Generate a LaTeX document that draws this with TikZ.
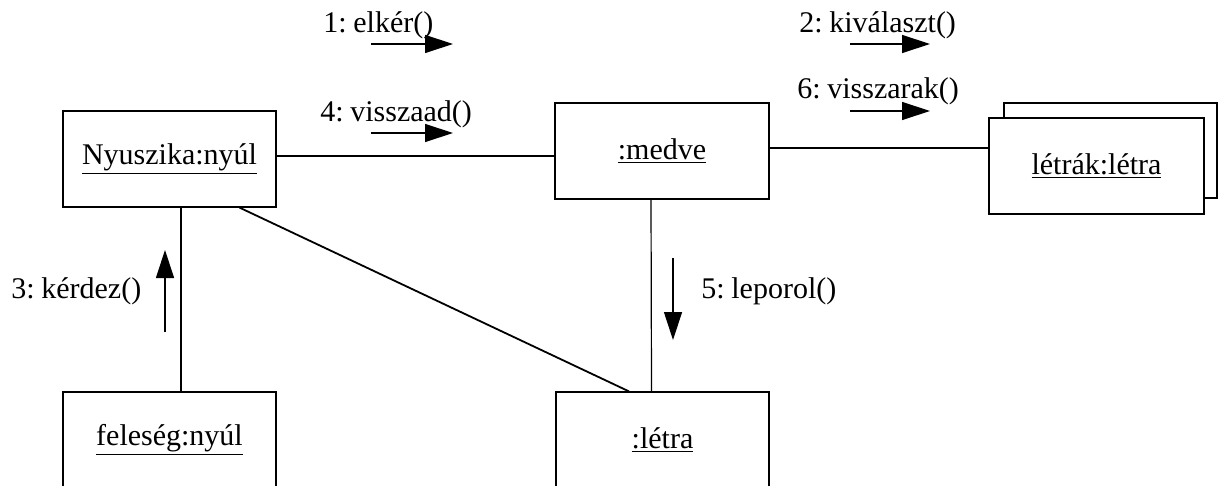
\documentclass[tikz,border=0pt]{standalone}
\usepackage{fontspec}
\setmainfont[WordSpace=0.55]{Liberation Serif}
\usetikzlibrary{arrows.meta}

\tikzset{
    obj/.style={draw, line width=0.6pt, fill=white, inner sep=0pt,
        minimum width=106.5pt, minimum height=48pt, font=\fontsize{15}{18}\selectfont},
    msg/.style={-{Triangle[length=14pt, width=9pt]}, line width=0.6pt},
    lbl/.style={inner sep=0pt, font=\fontsize{15}{18}\selectfont},
    link/.style={line width=0.6pt}
}

\begin{document}
\begin{tikzpicture}[x=0.5pt, y=-0.5pt]

    \useasboundingbox (0,0) rectangle (1218,486);

    % objects
    \node[obj] (nyuszika) at (169.5,159) {\underline{Nyuszika:nyúl}};
    \node[obj, minimum width=107pt] (medve) at (662,151) {\underline{:medve}};
    \node[obj, minimum height=47.5pt] (letrakback) at (1110.5,150.5) {};
    \node[obj, minimum width=107.5pt] (letrak) at (1096.5,166) {\underline{létrák:létra}};
    \node[obj] (feleseg) at (169.5,440) {\underline{feleség:nyúl}};
    \node[obj, minimum width=106.5pt] (letra) at (662.5,440) {\underline{:létra}};

    % links
    \draw[link] (nyuszika.east |- 0,156) -- (medve.west |- 0,156);
    \draw[link] (medve.east |- 0,148) -- (letrak.west |- 0,148);
    \draw[link] ([xshift=5.75pt]nyuszika.south) -- ([xshift=5.75pt]feleseg.north);
    \draw[link] ([xshift=-5.5pt]medve.south) -- ([xshift=-5.5pt]letra.north);
    \draw[link, line width=0.9pt] ([xshift=35pt]nyuszika.south) -- ([xshift=-16.75pt]letra.north);

    % messages
    \node[lbl, anchor=base west] (m1) at (323,33) {1: elkér()};
    \coordinate (m1s) at (371,44);
    \coordinate (m1e) at (453,44);
    \draw[msg] (m1s) -- (m1e);

    \node[lbl, anchor=base west] (m2) at (799,33) {2: kiválaszt()};
    \coordinate (m2s) at (850,44);
    \coordinate (m2e) at (930,44);
    \draw[msg] (m2s) -- (m2e);

    \node[lbl, anchor=base west] (m3) at (11,298) {3: kérdez()};
    \coordinate (m3s) at (165,332);
    \coordinate (m3e) at (165,250);
    \draw[msg] (m3s) -- (m3e);

    \node[lbl, anchor=base west] (m4) at (320,122) {4: visszaad()};
    \coordinate (m4s) at (371,133);
    \coordinate (m4e) at (453,133);
    \draw[msg] (m4s) -- (m4e);

    \node[lbl, anchor=base west] (m5) at (701,298) {5: leporol()};
    \coordinate (m5s) at (673,258);
    \coordinate (m5e) at (673,340);
    \draw[msg] (m5s) -- (m5e);

    \node[lbl, anchor=base west] (m6) at (797,99) {6: visszarak()};
    \coordinate (m6s) at (850,111);
    \coordinate (m6e) at (930,111);
    \draw[msg] (m6s) -- (m6e);

\end{tikzpicture}
\end{document}
